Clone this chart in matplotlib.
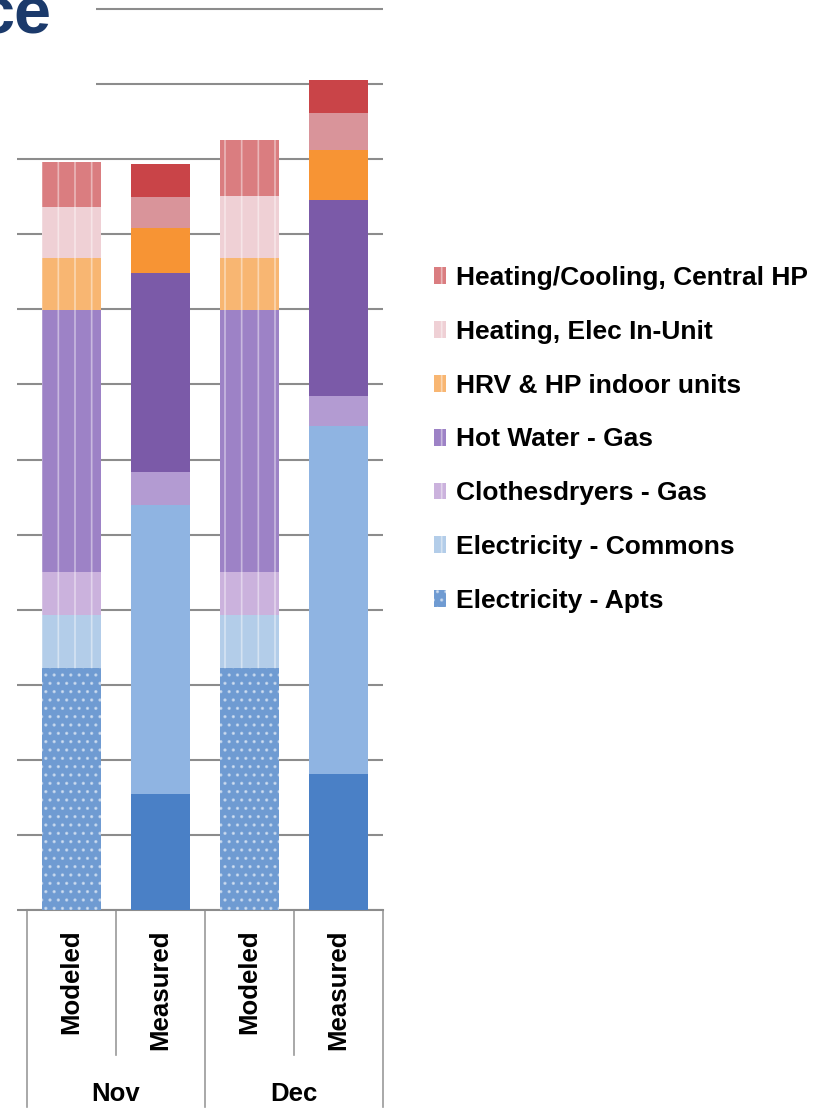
import matplotlib
matplotlib.use("Agg")
import matplotlib.pyplot as plt
from matplotlib.patches import Rectangle
import numpy as np

plt.rcParams['font.family'] = ['Liberation Sans', 'DejaVu Sans']
plt.rcParams['hatch.linewidth'] = 1.2

# bars: Nov modeled, Nov measured, Dec modeled, Dec measured
months = ['Nov', 'Dec']
cases = ['Modeled', 'Measured', 'Modeled', 'Measured']

# energy end uses, bottom of the stack first (values in gridline steps)
elec_apts = [3.22, 1.54, 3.22, 1.81]
elec_commons = [0.71, 3.85, 0.71, 4.63]
dryers_gas = [0.57, 0.44, 0.57, 0.40]
hot_water_gas = [3.49, 2.66, 3.49, 2.61]
hrv_hp_indoor = [0.69, 0.60, 0.69, 0.67]
heat_elec_unit = [0.68, 0.41, 0.83, 0.49]
heat_cool_hp = [0.60, 0.43, 0.75, 0.45]

series = [
    ('Electricity - Apts', elec_apts, '#6f9bd2', '#4a80c6', '..'),
    ('Electricity - Commons', elec_commons, '#b3cde9', '#8fb4e2', '|'),
    ('Clothesdryers - Gas', dryers_gas, '#cbb2dd', '#b39bd2', '|'),
    ('Hot Water - Gas', hot_water_gas, '#9d82c6', '#7b5aa8', '|'),
    ('HRV & HP indoor units', hrv_hp_indoor, '#f8b672', '#f79434', '|'),
    ('Heating, Elec In-Unit', heat_elec_unit, '#efd0d5', '#d9949a', '|'),
    ('Heating/Cooling, Central HP', heat_cool_hp, '#da7d80', '#c94448', '|'),
]

fig = plt.figure(figsize=(8.25, 11.08), dpi=100)
ax = fig.add_axes([27 / 825, 1 - 910 / 1108, 356 / 825, 910 / 1108])

x = np.arange(len(cases))
bottom = np.zeros(len(cases))
handles = []
for name, vals, c_model, c_meas, hatch in series:
    vals = np.array(vals)
    for i in range(len(cases)):
        if cases[i] == 'Modeled':
            b = ax.bar(x[i], vals[i], 0.66, bottom=bottom[i], color=c_model,
                       edgecolor=(1, 1, 1, 0.45), linewidth=0, hatch=hatch, zorder=3)
            if i == 0:
                handles.append((b.patches[0], name))
        else:
            ax.bar(x[i], vals[i], 0.66, bottom=bottom[i], color=c_meas,
                   linewidth=0, zorder=3)
    bottom += vals

ax.set_xlim(-0.5, 3.5)
ax.set_ylim(0, 910 / 75.08)
ax.set_yticks(np.arange(0, 13))
ax.set_yticklabels([])
ax.yaxis.grid(True, color='#8c8c8c', linewidth=1.5, zorder=0)
ax.tick_params(axis='y', length=7.2, width=1.5, color='#8c8c8c')
for s in ['left', 'right', 'top']:
    ax.spines[s].set_visible(False)
ax.spines['bottom'].set_color('#8c8c8c')
ax.spines['bottom'].set_linewidth(1.5)

ax.set_xticks(x)
ax.set_xticklabels(cases, rotation=90, fontsize=18.5, fontweight='bold')
ax.tick_params(axis='x', length=0, pad=14)

# two-level category axis: separators and month labels
tr = ax.get_xaxis_transform()
for xs, y_end in [(-0.5, -0.217), (0.5, -0.159), (1.5, -0.217), (2.5, -0.159), (3.5, -0.217)]:
    ax.plot([xs, xs], [0, y_end], transform=tr, color='#9a9a9a', linewidth=1.2, clip_on=False)
for k, m in enumerate(months):
    ax.text(2 * k + 0.5, -0.202, m, transform=tr, ha='center', va='center',
            fontsize=18.5, fontweight='bold')

# legend, top entry = top of stack
leg_h = [h for h, _ in handles][::-1]
leg_l = [n for _, n in handles][::-1]
fig.legend(leg_h, leg_l, loc='upper left', bbox_to_anchor=(434 / 825, 1 - 266 / 1108),
           frameon=False, prop={'size': 19, 'weight': 'bold'},
           handlelength=0.45, handleheight=0.6, handletextpad=0.38, labelspacing=1.13,
           borderaxespad=0, borderpad=0)

# page title fragment over a white box
fig.patches.append(Rectangle((0, 1 - 120 / 1108), 96 / 825, 120 / 1108,
                             transform=fig.transFigure, facecolor='white',
                             edgecolor='none', zorder=5))
fig.text(51 / 825, 1 - 34 / 1108, 'ce', ha='right', va='baseline', fontsize=48,
         fontweight='bold', color='#1b3a6b', zorder=6)

fig.savefig('out.png', dpi=100)
